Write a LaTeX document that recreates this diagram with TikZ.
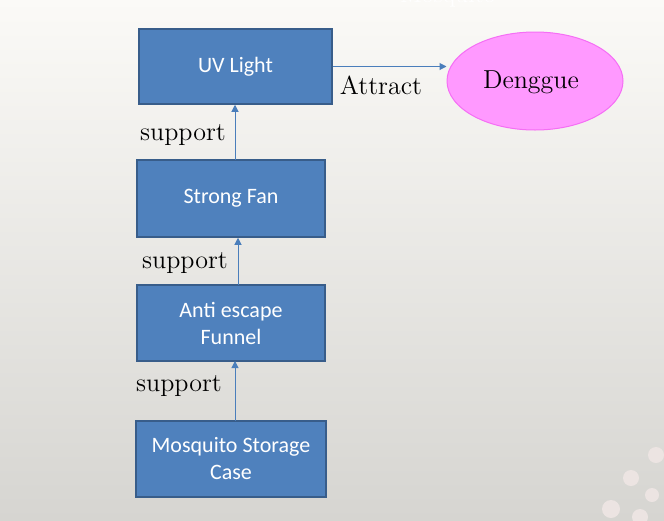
\documentclass[tikz,border=0pt]{standalone}
\usepackage{fontspec}
\newfontfamily\boxfont{Carlito}
\usetikzlibrary{arrows.meta,shapes.geometric}

\definecolor{boxblue}{RGB}{79,129,189}
\definecolor{boxedge}{RGB}{56,93,138}
\definecolor{linkblue}{RGB}{74,126,187}
\definecolor{denfill}{RGB}{255,153,255}
\definecolor{denedge}{RGB}{245,110,245}
\definecolor{dotpale}{RGB}{236,228,226}

\tikzset{
  partbox/.style={draw=boxedge, fill=boxblue, line width=0.75pt, text=white,
    font=\boxfont\fontsize{11}{13.5}\selectfont, align=center, inner sep=0.75pt},
  link/.style={draw=linkblue, line width=0.5pt, -{Triangle[length=3.5pt,width=3.5pt]}},
  serif/.style={font=\fontsize{13}{15}\selectfont, inner sep=0.75pt}
}

\begin{document}
\begin{tikzpicture}[x=0.5pt,y=0.5pt,yscale=-1,xscale=1]
%background
\useasboundingbox (0,0) rectangle (664,520);
\shade [top color={rgb,255:red,251;green,250;blue,247}, bottom color={rgb,255:red,214;green,213;blue,209}] (0,0) rectangle (664,520);
%Shapes: Circles
\fill [dotpale] (656,455) circle [radius=8];
\fill [dotpale] (631,478) circle [radius=8];
\fill [dotpale] (652,495) circle [radius=7];
\fill [dotpale] (611,509) circle [radius=9];
\fill [dotpale] (640,517) circle [radius=8];

% Text Node
\node (title) [anchor=base, text=white, font=\fontsize{12}{14}\selectfont, inner sep=0pt] at (448,2) {Mosquito};

%Shape: Rectangle
\node (uv) [partbox, minimum width=96.5pt, minimum height=37.5pt] at (235.5,66.5) {UV Light};
%Shape: Rectangle
\node (fan) [partbox, minimum width=94pt, minimum height=38.5pt] at (231,198.5) {Strong Fan};
%Shape: Rectangle
\node (funnel) [partbox, minimum width=94pt, minimum height=38pt] at (231,323) {Anti escape\\Funnel};
%Shape: Rectangle
\node (store) [partbox, minimum width=95pt, minimum height=38pt] at (231,459) {Mosquito Storage\\Case};
%Shape: Ellipse
\node (den) [ellipse, draw=denedge, fill=denfill, line width=0.5pt, minimum width=88pt, minimum height=49pt, inner sep=0pt] at (535,81) {};

%Straight Lines
\coordinate (fantop) at (235,160);
\coordinate (funtop) at (238,285);
\coordinate (funbot) at (235,361);
\coordinate (stotop) at (235,421);
\draw [link] (uv.east) -- (uv.east -| den.west);
\draw [link] (fantop) -- (fantop |- uv.south);
\draw [link] (funtop) -- (funtop |- fan.south);
\draw [link] (stotop) -- (funbot);

% Text Node
\node (dentxt) [serif] at (531,82) {Denggue};
% Text Node
\node (attract) [serif] at (381,85) {Attract};
% Text Node
\node (sup1) [serif] at (183,135) {support};
% Text Node
\node (sup2) [serif] at (185,263) {support};
% Text Node
\node (sup3) [serif] at (179,386) {support};
\end{tikzpicture}
\end{document}
